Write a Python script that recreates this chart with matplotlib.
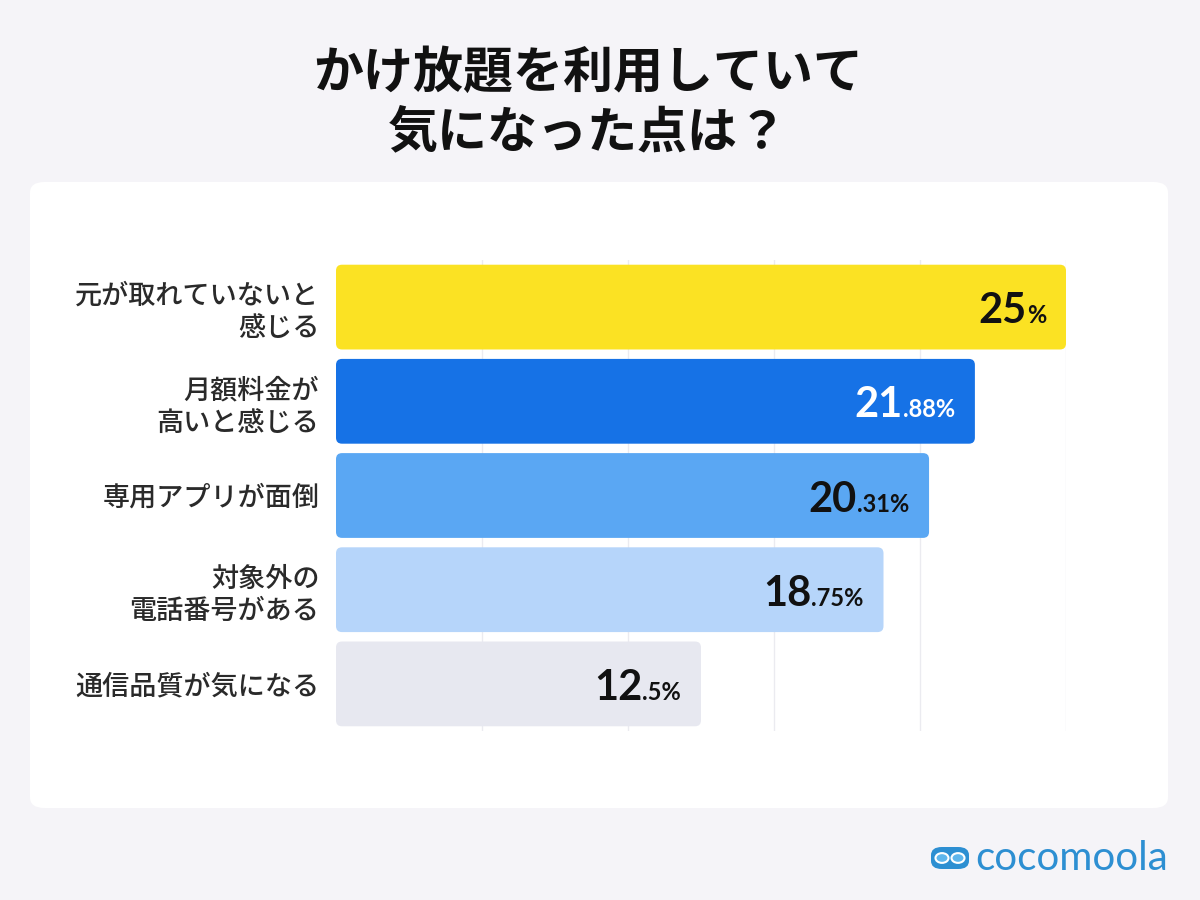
import matplotlib.pyplot as plt
from matplotlib.patches import FancyBboxPatch, Circle

plt.rcParams['font.family'] = ['Noto Sans CJK JP', 'DejaVu Sans']

# data
categories = ['元が取れていないと\n感じる', '月額料金が\n高いと感じる', '専用アプリが面倒',
              '対象外の\n電話番号がある', '通信品質が気になる']
values = [25, 21.88, 20.31, 18.75, 12.5]
value_labels = ['25', '21.88', '20.31', '18.75', '12.5']
bar_colors = ['#fbe223', '#1672e6', '#5aa7f3', '#b6d5fa', '#e7e8f0']
text_colors = ['#111111', '#ffffff', '#111111', '#111111', '#111111']
title = 'かけ放題を利用していて\n気になった点は？'

W, H = 1200, 900
fig = plt.figure(figsize=(12, 9), dpi=100)
fig.patch.set_facecolor('#f5f4f8')

# white card
card = FancyBboxPatch((30 / W, 1 - 808 / H), 1138 / W, 626 / H,
                      boxstyle='round,pad=0,rounding_size=0.012',
                      transform=fig.transFigure, facecolor='white',
                      edgecolor='none', zorder=-1)
fig.patches.append(card)

fig.text(0.49, 1 - 103 / H, title, ha='center', va='center', fontsize=36,
         fontweight='bold', color='#111111', linespacing=1.2)

# axes: x=0 at px 336, x=25 at px 1066; rows 95px apart starting at 258
ax = fig.add_axes([336 / W, 1 - 731 / H, 730 / W, 471 / H])
ax.set_facecolor('none')
ax.set_xlim(0, 25)
ax.set_ylim(len(values) - 0.5, -0.5)
for s in ax.spines.values():
    s.set_visible(False)
ax.set_xticks([5, 10, 15, 20, 25])
ax.set_xticklabels([])
ax.tick_params(length=0)
ax.grid(axis='x', color='#ebebf0', linewidth=1)
ax.set_axisbelow(True)

bars = ax.barh(range(len(values)), values, height=0.9, color=bar_colors)
px_x = 730 / 25
px_y = 471 / 5
for b, c in zip(bars, bar_colors):
    b.set_visible(False)
    r = 6 / px_x
    p = FancyBboxPatch((b.get_x(), b.get_y()), b.get_width(), b.get_height(),
                       boxstyle=f'round,pad=0,rounding_size={r}',
                       mutation_aspect=px_x / px_y, facecolor=c,
                       edgecolor='none', zorder=2)
    ax.add_patch(p)

ax.set_yticks(range(len(values)))
ax.set_yticklabels(categories, fontsize=19.5, fontweight='medium', color='#2a2a2a',
                   linespacing=1.25)
ax.tick_params(axis='y', pad=12)

num_font = 'Lato'
for i, (v, lab, tc) in enumerate(zip(values, value_labels, text_colors)):
    if '.' in lab:
        big, small = lab.split('.')
        small = '.' + small + '%'
    else:
        big, small = lab, '%'
    yb = i + 0.17
    t_small = ax.text(v - 20 / px_x, yb, small, ha='right', va='baseline',
                      fontsize=17, fontweight='bold', color=tc,
                      family=num_font, zorder=3)
    ax.annotate(big, xy=(0, yb), xycoords=(t_small, 'data'), ha='right',
                va='baseline', fontsize=30, fontweight='bold', color=tc,
                family=num_font, zorder=3)

# logo
lc = '#2d8fd2'
fig.patches.append(FancyBboxPatch((931 / W, 1 - 869 / H), 38 / W, 22 / H,
                                  boxstyle='round,pad=0,rounding_size=0.009',
                                  transform=fig.transFigure, facecolor=lc,
                                  edgecolor='none'))
for cx in (942, 958):
    fig.patches.append(Circle((cx / W, 1 - 858 / H), 6.5 / W,
                              transform=fig.transFigure, facecolor='#5fb6ec',
                              edgecolor='white', linewidth=1.5))
fig.text(975 / W, 1 - 858 / H, 'cocomoola', ha='left', va='center',
         fontsize=29, color=lc, family='Lato')

fig.savefig('out.png', dpi=100, facecolor=fig.get_facecolor())
